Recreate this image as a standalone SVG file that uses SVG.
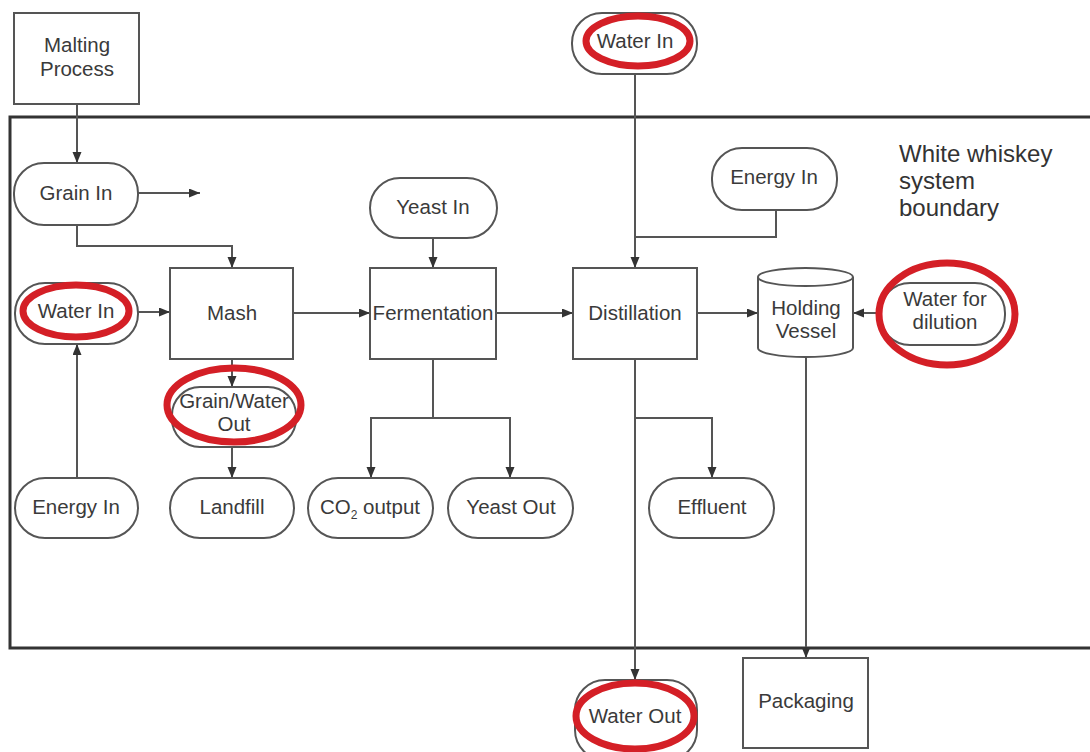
<svg xmlns="http://www.w3.org/2000/svg" width="1090" height="752" viewBox="0 0 1090 752">
<style>
.box{fill:#fff;stroke:#555;stroke-width:2}
.t{font-family:"Liberation Sans",Arial,sans-serif;font-size:20.5px;fill:#3a3a3a;text-anchor:middle}
.big{font-family:"Liberation Sans",Arial,sans-serif;font-size:24px;fill:#333}
.c{fill:none;stroke:#555;stroke-width:2}
.ca{fill:none;stroke:#555;stroke-width:2;marker-end:url(#ah)}
.red{fill:none;stroke:#d41f26;stroke-width:7}
</style>
<defs>
<marker id="ah" markerUnits="userSpaceOnUse" markerWidth="12" markerHeight="10" refX="11" refY="4.5" orient="auto">
<path d="M0,0 L11,4.5 L0,9 z" fill="#333"/>
</marker>
</defs>
<rect width="1090" height="752" fill="#fff"/>
<g id="boundary">
<path d="M1095,117 H10 V648 H1095" fill="none" stroke="#333" stroke-width="3"/>
<text class="big" x="899" y="162">White whiskey</text>
<text class="big" x="899" y="189">system</text>
<text class="big" x="899" y="216">boundary</text>
</g>
<g id="connectors">
<path class="ca" d="M77,104 V163"/>
<path class="ca" d="M138,193 H200"/>
<path class="ca" d="M77,225 V246 H232 V268"/>
<path class="ca" d="M138,312 H170"/>
<path class="ca" d="M77,478 V344"/>
<path class="ca" d="M232,359 V387"/>
<path class="ca" d="M232,447 V478"/>
<path class="ca" d="M293,313 H370"/>
<path class="ca" d="M433,238 V268"/>
<path class="ca" d="M433,359 V418 H371 V478"/>
<path class="ca" d="M433,418 H510 V478"/>
<path class="ca" d="M496,313 H573"/>
<path class="ca" d="M635,74 V268"/>
<path class="c" d="M776,210 V237 H635"/>
<path class="ca" d="M697,313 H758"/>
<path class="ca" d="M880,313 H853"/>
<path class="ca" d="M635,359 V680"/>
<path class="ca" d="M635,418 H712 V478"/>
<path class="ca" d="M806,357 V658"/>
</g>
<g id="malting"><rect class="box" x="14" y="13" width="125" height="91"/><text class="t" x="77" y="52">Malting</text><text class="t" x="77" y="76">Process</text></g>
<g id="grain-in"><rect class="box" x="14" y="163" width="124" height="62" rx="30"/><text class="t" x="76" y="200">Grain In</text></g>
<g id="water-in-left"><rect class="box" x="15" y="283" width="123" height="61" rx="30"/><text class="t" x="76" y="318">Water In</text></g>
<g id="energy-in-left"><rect class="box" x="15" y="478" width="123" height="60" rx="30"/><text class="t" x="76" y="514">Energy In</text></g>
<g id="mash"><rect class="box" x="170" y="268" width="123" height="91"/><text class="t" x="232" y="320">Mash</text></g>
<g id="grain-water-out"><rect class="box" x="172" y="387" width="124" height="60" rx="28"/><text class="t" x="234" y="408">Grain/Water</text><text class="t" x="234" y="431">Out</text></g>
<g id="landfill"><rect class="box" x="170" y="478" width="124" height="60" rx="30"/><text class="t" x="232" y="514">Landfill</text></g>
<g id="yeast-in"><rect class="box" x="370" y="178" width="127" height="60" rx="30"/><text class="t" x="433" y="214">Yeast In</text></g>
<g id="fermentation"><rect class="box" x="370" y="268" width="126" height="91"/><text class="t" x="433" y="320">Fermentation</text></g>
<g id="co2-output"><rect class="box" x="308" y="478" width="125" height="60" rx="30"/><text class="t" x="370" y="514">CO<tspan font-size="12" dy="5">2</tspan><tspan dy="-5"> output</tspan></text></g>
<g id="yeast-out"><rect class="box" x="448" y="478" width="125" height="60" rx="30"/><text class="t" x="511" y="514">Yeast Out</text></g>
<g id="water-in-top"><rect class="box" x="572" y="13" width="125" height="61" rx="30"/><text class="t" x="635" y="48">Water In</text></g>
<g id="distillation"><rect class="box" x="573" y="268" width="124" height="91"/><text class="t" x="635" y="320">Distillation</text></g>
<g id="energy-in-right"><rect class="box" x="712" y="148" width="125" height="62" rx="30"/><text class="t" x="774" y="184">Energy In</text></g>
<g id="effluent"><rect class="box" x="649" y="478" width="125" height="60" rx="30"/><text class="t" x="712" y="514">Effluent</text></g>
<g id="holding-vessel">
<path class="box" d="M758,277 V348 A47.5,9 0 0 0 853,348 V277"/>
<ellipse class="box" cx="805.5" cy="277" rx="47.5" ry="9"/>
<text class="t" x="806" y="315">Holding</text><text class="t" x="806" y="338">Vessel</text>
</g>
<g id="water-dilution"><rect class="box" x="880" y="283" width="125" height="62" rx="30"/><text class="t" x="945" y="306">Water for</text><text class="t" x="945" y="329">dilution</text></g>
<g id="water-out"><rect class="box" x="575" y="680" width="122" height="80" rx="30"/><text class="t" x="635" y="723">Water Out</text></g>
<g id="packaging"><rect class="box" x="743" y="658" width="125" height="90"/><text class="t" x="806" y="708">Packaging</text></g>
<g id="highlights">
<ellipse class="red" cx="76" cy="311" rx="53" ry="26"/>
<ellipse class="red" cx="638" cy="41" rx="52" ry="25"/>
<ellipse class="red" cx="234" cy="405" rx="67" ry="37"/>
<ellipse class="red" cx="947" cy="314" rx="68" ry="51"/>
<ellipse class="red" cx="635" cy="716" rx="59" ry="33"/>
</g>
</svg>
